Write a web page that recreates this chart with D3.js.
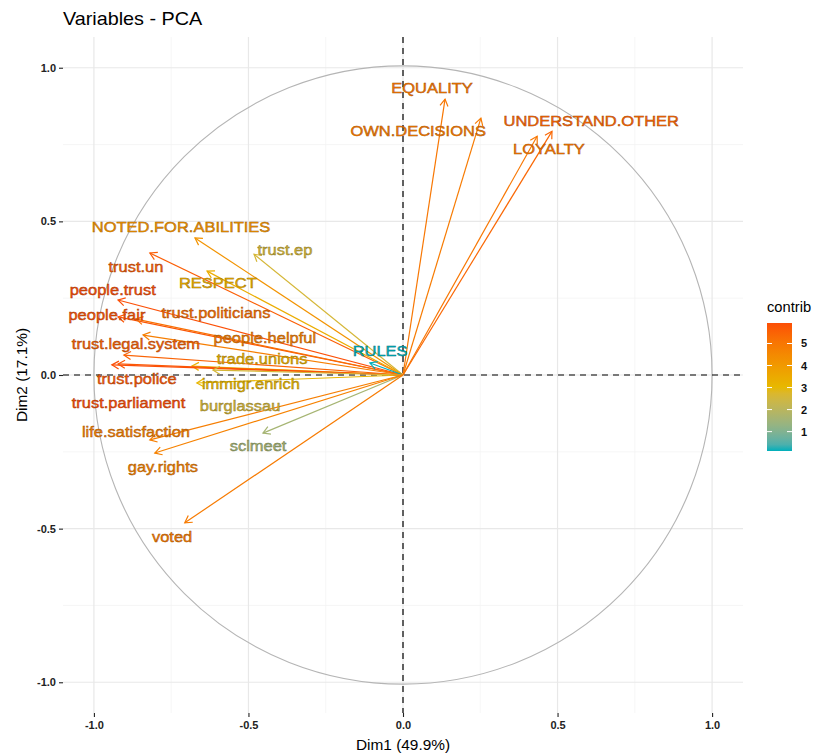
<!DOCTYPE html>
<html>
<head>
<meta charset="utf-8">
<script src="https://cdn.jsdelivr.net/npm/d3@7"></script>
<style>
  html, body { margin: 0; padding: 0; background: #fff; }
  svg { display: block; font-family: "Liberation Sans", Arial, sans-serif; }
</style>
</head>
<body>
<svg id="chart" width="818" height="756"></svg>
<script>
// ---------------- data ----------------
const variables = ["EQUALITY","OWN.DECISIONS","UNDERSTAND.OTHER","LOYALTY","NOTED.FOR.ABILITIES",
  "trust.ep","trust.un","RESPECT","people.trust","people.fair","trust.politicians","people.helpful",
  "trust.legal.system","trade.unions","RULES","trust.police","immigr.enrich","trust.parliament",
  "burglassau","life.satisfaction","sclmeet","gay.rights","voted"];
const dim1 = [0.136, 0.252, 0.482, 0.434, -0.673,
  -0.482, -0.819, -0.634, -0.922, -0.922, -0.864, -0.841,
  -0.903, -0.683, -0.107, -0.922, -0.667, -0.942,
  -0.615, -0.819, -0.453, -0.803, -0.706];
const dim2 = [0.898, 0.836, 0.793, 0.777, 0.446,
  0.393, 0.397, 0.338, 0.244, 0.189, 0.182, 0.130,
  0.065, 0.029, 0.039, 0.036, -0.026, 0.033,
  0.016, -0.211, -0.189, -0.254, -0.481];
const contrib = [5.0, 4.9, 5.4, 5.0, 4.2,
  2.6, 5.6, 3.4, 5.9, 5.8, 5.2, 4.8,
  5.5, 3.3, 0.12, 5.7, 3.1, 5.93,
  2.6, 4.8, 1.6, 4.7, 4.9];
// label anchor points chosen by the repel step (data units)
const labelX = [0.094, 0.049, 0.609, 0.472, -0.718,
  -0.382, -0.864, -0.599, -0.939, -0.958, -0.605, -0.447,
  -0.864, -0.456, -0.074, -0.861, -0.492, -0.888,
  -0.527, -0.864, -0.469, -0.777, -0.747];
const labelY = [0.934, 0.794, 0.829, 0.735, 0.481,
  0.407, 0.351, 0.299, 0.276, 0.195, 0.202, 0.120,
  0.101, 0.052, 0.078, -0.013, -0.029, -0.091,
  -0.101, -0.185, -0.231, -0.299, -0.525];
const axisTicks = [-1.0, -0.5, 0.0, 0.5, 1.0];
const minorTicks = [-0.75, -0.25, 0.25, 0.75];
const legendTicks = [1, 2, 3, 4, 5];
const gradientCols = ["#00AFBB", "#E7B800", "#FC4E07"];
const title = "Variables - PCA";
const xTitle = "Dim1 (49.9%)";
const yTitle = "Dim2 (17.1%)";

// ---------------- layout ----------------
const svg = d3.select("#chart");
const panel = { left: 63, right: 743, top: 37, bottom: 713 };
const x = d3.scaleLinear().domain([-1.1, 1.1]).range([panel.left, panel.right]);
const y = d3.scaleLinear().domain([-1.1, 1.1]).range([panel.bottom, panel.top]);

const cMin = d3.min(contrib), cMax = d3.max(contrib);
const color = d3.scaleLinear()
  .domain([cMin, (cMin + cMax) / 2, cMax])
  .range(gradientCols)
  .interpolate(d3.interpolateLab);

// grid
const grid = svg.append("g");
minorTicks.forEach(t => {
  grid.append("line").attr("x1", x(t)).attr("x2", x(t)).attr("y1", panel.top).attr("y2", panel.bottom)
    .attr("stroke", "#f2f2f2").attr("stroke-width", 0.7);
  grid.append("line").attr("y1", y(t)).attr("y2", y(t)).attr("x1", panel.left).attr("x2", panel.right)
    .attr("stroke", "#f2f2f2").attr("stroke-width", 0.7);
});
axisTicks.forEach(t => {
  grid.append("line").attr("x1", x(t)).attr("x2", x(t)).attr("y1", panel.top).attr("y2", panel.bottom)
    .attr("stroke", "#e8e8e8").attr("stroke-width", 1.2);
  grid.append("line").attr("y1", y(t)).attr("y2", y(t)).attr("x1", panel.left).attr("x2", panel.right)
    .attr("stroke", "#e8e8e8").attr("stroke-width", 1.2);
});

// axes
const xAxis = d3.axisBottom(x).tickValues(axisTicks).tickFormat(d3.format(".1f")).tickSize(4).tickPadding(4);
const yAxis = d3.axisLeft(y).tickValues(axisTicks).tickFormat(d3.format(".1f")).tickSize(4).tickPadding(3);
const gx = svg.append("g").attr("transform", `translate(0,${panel.bottom})`).call(xAxis);
const gy = svg.append("g").attr("transform", `translate(${panel.left},0)`).call(yAxis);
[gx, gy].forEach(g => {
  g.select(".domain").remove();
  g.selectAll(".tick line").attr("stroke", "#222").attr("stroke-width", 1.1);
  g.selectAll(".tick text").attr("fill", "#222").attr("font-size", 11).attr("font-weight", "bold")
    .attr("font-family", "Liberation Sans, Arial, sans-serif");
});
gx.selectAll(".tick text").text(d => d3.format(".1f")(d).replace("−", "-"));
gy.selectAll(".tick text").text(d => d3.format(".1f")(d).replace("−", "-"));

// circle
svg.append("circle").attr("cx", x(0)).attr("cy", y(0))
  .attr("r", x(1) - x(0)).attr("fill", "none").attr("stroke", "#b5b5b5").attr("stroke-width", 1.1);

// dashed zero lines
svg.append("line").attr("x1", panel.left).attr("x2", panel.right).attr("y1", y(0)).attr("y2", y(0))
  .attr("stroke", "#000").attr("stroke-width", 1.2).attr("stroke-dasharray", "6,5");
svg.append("line").attr("y1", panel.top).attr("y2", panel.bottom).attr("x1", x(0)).attr("x2", x(0))
  .attr("stroke", "#000").attr("stroke-width", 1.2).attr("stroke-dasharray", "6,5");

// arrows
const data = variables.map((v, i) => ({ name: v, d1: dim1[i], d2: dim2[i], c: contrib[i], lx: labelX[i], ly: labelY[i] }));
const arrows = svg.append("g");
const headLen = 8, headAng = Math.PI / 6;
data.forEach(d => {
  const x0 = x(0), y0 = y(0), x1 = x(d.d1), y1 = y(d.d2);
  const ang = Math.atan2(y1 - y0, x1 - x0);
  const col = color(d.c);
  arrows.append("line").attr("x1", x0).attr("y1", y0).attr("x2", x1).attr("y2", y1)
    .attr("stroke", col).attr("stroke-width", 1.2);
  const p1 = [x1 - headLen * Math.cos(ang - headAng), y1 - headLen * Math.sin(ang - headAng)];
  const p2 = [x1 - headLen * Math.cos(ang + headAng), y1 - headLen * Math.sin(ang + headAng)];
  arrows.append("path").attr("d", `M${p1[0]},${p1[1]}L${x1},${y1}L${p2[0]},${p2[1]}`)
    .attr("fill", "none").attr("stroke", col).attr("stroke-width", 1.2);
});

// labels
const labels = svg.append("g");
data.forEach(d => {
  const col = color(d.c);
  labels.append("text")
    .attr("transform", `translate(${x(d.lx)},${y(d.ly)}) scale(1.1,1)`)
    .attr("text-anchor", "middle").attr("dominant-baseline", "central")
    .attr("font-size", 15)
    .attr("fill", col)
    .attr("stroke", d3.color(col).darker(1.2))
    .attr("stroke-width", 0.45)
    .text(d.name);
});

// titles
svg.append("text").attr("transform", "translate(63,25) scale(1.1,1)").attr("font-size", 18)
  .attr("fill", "#000").text(title);
svg.append("text").attr("transform", `translate(${x(0)},750) scale(1.1,1)`).attr("text-anchor", "middle")
  .attr("font-size", 14).attr("fill", "#000").text(xTitle);
svg.append("text").attr("transform", `translate(27,${y(0)}) rotate(-90) scale(1.1,1)`).attr("text-anchor", "middle")
  .attr("font-size", 14).attr("fill", "#000").text(yTitle);

// legend
const lg = svg.append("g");
const barX = 767, barW = 25, barTop = 323, barBot = 451;
const ly = d3.scaleLinear().domain([cMin, cMax]).range([barBot, barTop]);
const defs = svg.append("defs");
const grad = defs.append("linearGradient").attr("id", "cg").attr("x1", 0).attr("x2", 0).attr("y1", 1).attr("y2", 0);
d3.range(0, 1.0001, 0.05).forEach(t => {
  grad.append("stop").attr("offset", t).attr("stop-color", color(cMin + t * (cMax - cMin)));
});
lg.append("rect").attr("x", barX).attr("y", barTop).attr("width", barW).attr("height", barBot - barTop)
  .attr("fill", "url(#cg)");
legendTicks.forEach(t => {
  lg.append("line").attr("x1", barX).attr("x2", barX + 5).attr("y1", ly(t)).attr("y2", ly(t))
    .attr("stroke", "#fff").attr("stroke-width", 1);
  lg.append("line").attr("x1", barX + barW - 5).attr("x2", barX + barW).attr("y1", ly(t)).attr("y2", ly(t))
    .attr("stroke", "#fff").attr("stroke-width", 1);
  lg.append("text").attr("x", 801).attr("y", ly(t)).attr("dominant-baseline", "central")
    .attr("font-size", 11).attr("font-weight", "bold").attr("fill", "#111").text(t);
});
lg.append("text").attr("transform", "translate(767,312) scale(1.05,1)").attr("font-size", 14)
  .attr("fill", "#000").text("contrib");
</script>
</body>
</html>
